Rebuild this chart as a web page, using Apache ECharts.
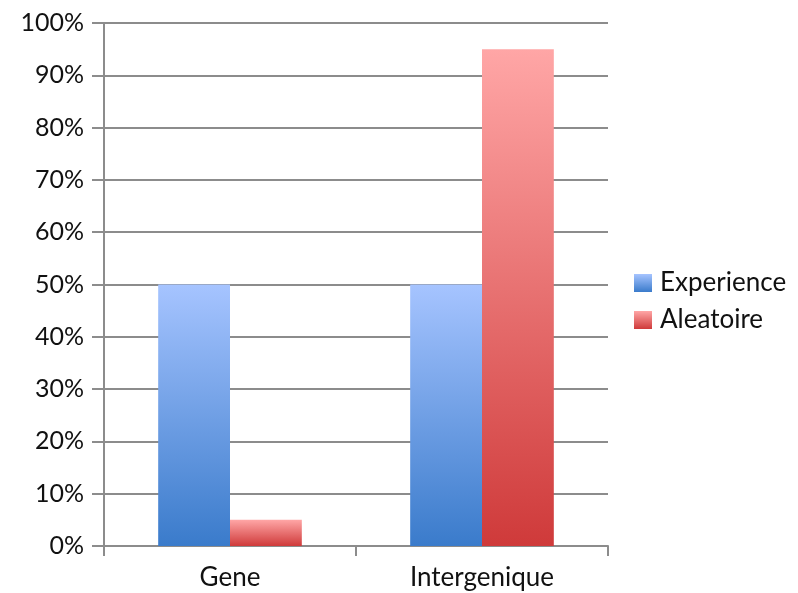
<!DOCTYPE html>
<html><head><meta charset="utf-8">
<script src="https://cdn.jsdelivr.net/npm/echarts@6/dist/echarts.min.js"></script>
<style>html,body{margin:0;padding:0;background:#fff}#c{width:798px;height:593px}</style>
</head><body><div id="c"></div>
<script>
const categories = ['Gene', 'Intergenique'];
const experience = [50, 50];
const aleatoire = [5, 95];
const yTicks = [0, 10, 20, 30, 40, 50, 60, 70, 80, 90, 100];

function grad(top, bottom) {
  return new echarts.graphic.LinearGradient(0, 0, 0, 1, [
    {offset: 0, color: top}, {offset: 1, color: bottom}
  ]);
}
const blue = grad('#a6c4ff', '#3a7bcb');
const red = grad('#ffa6a6', '#cf3a3a');
const font = 'Lato, "Liberation Sans", sans-serif';

const chart = echarts.init(document.getElementById('c'), null, {renderer: 'canvas'});
chart.setOption({
  animation: false,
  textStyle: {fontFamily: font},
  grid: {left: 104, right: 190, top: 23, bottom: 47, containLabel: false},
  legend: {
    orient: 'vertical', left: 629, top: 265,
    itemWidth: 18, itemHeight: 18, itemGap: 11,
    icon: 'rect',
    textStyle: {fontSize: 26, color: '#111', fontFamily: font, padding: [0, 0, 0, 3]},
    data: [{name: 'Experience', itemStyle: {color: blue}}, {name: 'Aleatoire', itemStyle: {color: red}}]
  },
  xAxis: {
    type: 'category', data: categories,
    axisLine: {lineStyle: {color: '#8c8c8c', width: 2}},
    axisTick: {show: true, length: 10, lineStyle: {color: '#8c8c8c', width: 2}},
    axisLabel: {fontSize: 26, color: '#111', margin: 19, fontFamily: font}
  },
  yAxis: {
    type: 'value', min: 0, max: 100, interval: 10,
    axisLine: {show: true, lineStyle: {color: '#8c8c8c', width: 2}},
    axisTick: {show: true, length: 12, lineStyle: {color: '#8c8c8c', width: 2}},
    splitLine: {lineStyle: {color: '#8c8c8c', width: 2}},
    axisLabel: {fontSize: 25, color: '#111', margin: 20, fontFamily: font,
      formatter: v => yTicks.includes(v) ? v + '%' : ''}
  },
  series: [
    {name: 'Experience', type: 'bar', data: experience, barGap: '0%', barCategoryGap: '43%',
     itemStyle: {color: blue}},
    {name: 'Aleatoire', type: 'bar', data: aleatoire, barGap: '0%', barCategoryGap: '43%',
     itemStyle: {color: red}}
  ]
});
</script></body></html>
